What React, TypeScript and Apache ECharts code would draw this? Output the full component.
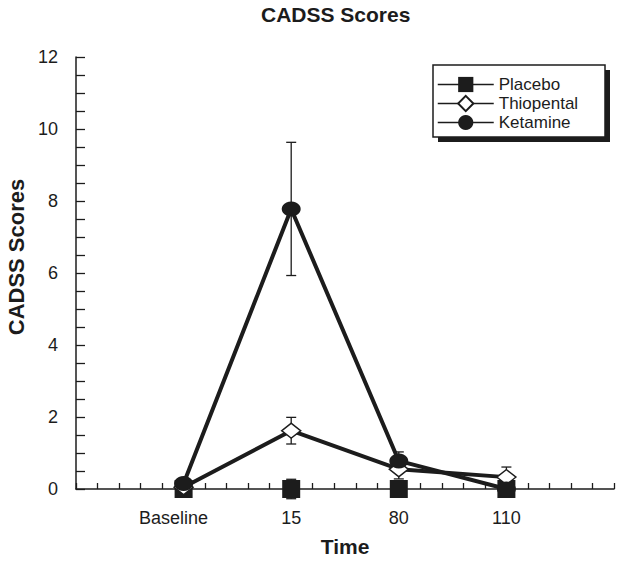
import React, { useEffect, useRef } from "react";
import * as echarts from "echarts";

const categories = ["Baseline", "15", "80", "110"];
const placebo = [0, 0, 0, 0];
const placeboErr = [0, 0.27, 0, 0];
const thiopental = [0.05, 1.62, 0.55, 0.33];
const thiopentalErr = [0, 0.37, 0.27, 0.28];
const ketamine = [0.15, 7.78, 0.78, 0];
const ketamineErr = [0, 1.85, 0.25, 0];
const yTicks = [0, 2, 4, 6, 8, 10, 12];

const INK = "#1c1c1c";
const FONT = "Liberation Sans, Arial, Helvetica, sans-serif";

function toPoints(vals: number[]) {
  return vals.map((v, i) => [i + 1, v]);
}
function toErr(vals: number[], errs: number[]) {
  return vals.map((v, i) => [i + 1, v, errs[i]]);
}

function errorSeries(name: string, vals: number[], errs: number[], z: number) {
  return {
    type: "custom",
    name: name + " error",
    silent: true,
    z,
    data: toErr(vals, errs),
    encode: { x: 0, y: 1 },
    renderItem: (params: any, api: any) => {
      const x = api.value(0);
      const y = api.value(1);
      const e = api.value(2);
      if (!e) return null;
      const top = api.coord([x, y + e]);
      const bot = api.coord([x, y - e]);
      const half = 5;
      const style = { stroke: INK, lineWidth: 1.3 };
      return {
        type: "group",
        children: [
          { type: "line", shape: { x1: top[0], y1: top[1], x2: bot[0], y2: bot[1] }, style },
          { type: "line", shape: { x1: top[0] - half, y1: top[1], x2: top[0] + half, y2: top[1] }, style },
          { type: "line", shape: { x1: bot[0] - half, y1: bot[1], x2: bot[0] + half, y2: bot[1] }, style },
        ],
      };
    },
  };
}

export default function App() {
  const ref = useRef<HTMLDivElement>(null);
  useEffect(() => {
    if (!ref.current) return;
    const chart = echarts.init(ref.current, undefined, { renderer: "svg" });
    const option: any = {
      animation: false,
      backgroundColor: "#ffffff",
      textStyle: { fontFamily: FONT, color: INK },
      title: {
        text: "CADSS Scores",
        left: 261,
        top: 4,
        padding: 0,
        textStyle: { fontFamily: FONT, fontSize: 21, fontWeight: "bold", color: INK },
      },
      grid: { left: 76, right: 10, top: 57, bottom: 73, containLabel: false, outerBoundsMode: "none" },
      graphic: [
        { type: "rect", z: 50, shape: { x: 438, y: 70, width: 172, height: 72 }, style: { fill: INK } },
        {
          type: "rect",
          z: 51,
          shape: { x: 433, y: 65, width: 172, height: 72 },
          style: { fill: "#ffffff", stroke: INK, lineWidth: 1.5 },
        },
      ],
      legend: {
        z: 60,
        orient: "vertical",
        left: 437,
        top: 75,
        padding: 0,
        itemWidth: 56,
        itemHeight: 19,
        itemGap: 0,
        data: ["Placebo", "Thiopental", "Ketamine"],
        lineStyle: { width: 1.5, opacity: 1, color: INK },
        textStyle: { fontFamily: FONT, fontSize: 17, color: INK, lineHeight: 19 },
      },
      xAxis: {
        type: "value",
        min: 0,
        max: 5,
        interval: 0.2,
        name: "Time",
        nameLocation: "middle",
        nameGap: 47,
        nameTextStyle: { fontFamily: FONT, fontSize: 21, fontWeight: "bold", color: INK },
        axisLine: { lineStyle: { color: INK, width: 1.5 } },
        axisTick: { inside: true, length: 6, lineStyle: { color: INK, width: 1.3 } },
        splitLine: { show: false },
        axisLabel: {
          margin: 20,
          fontFamily: FONT,
          fontSize: 18,
          color: INK,
          showMinLabel: true,
          showMaxLabel: true,
          formatter: (v: number) => {
            const r = Math.round(v);
            if (Math.abs(v - r) > 1e-6 || r < 1 || r > categories.length) return "";
            return r === 1 ? "{b|" + categories[0] + "}" : categories[r - 1];
          },
          rich: { b: { fontFamily: FONT, fontSize: 18, color: INK, padding: [0, 20, 0, 0] } },
        },
      },
      yAxis: {
        type: "value",
        min: 0,
        max: 12,
        interval: 0.5,
        name: "CADSS Scores",
        nameLocation: "middle",
        nameGap: 48,
        nameTextStyle: {
          fontFamily: FONT,
          fontSize: 22,
          fontWeight: "bold",
          color: INK,
          padding: [0, 0, 0, 32],
        },
        axisLine: { show: true, lineStyle: { color: INK, width: 1.5 } },
        axisTick: { show: true, inside: true, length: 9, lineStyle: { color: INK, width: 1.3 } },
        splitLine: { show: false },
        axisLabel: {
          margin: 18,
          fontFamily: FONT,
          fontSize: 18,
          color: INK,
          formatter: (v: number) => (yTicks.indexOf(v) >= 0 ? String(v) : ""),
        },
      },
      series: [
        errorSeries("Placebo", placebo, placeboErr, 1),
        errorSeries("Thiopental", thiopental, thiopentalErr, 1),
        errorSeries("Ketamine", ketamine, ketamineErr, 1),
        {
          type: "line",
          name: "Placebo",
          z: 3,
          data: toPoints(placebo),
          symbol: "rect",
          symbolSize: 18,
          lineStyle: { color: INK, width: 4, opacity: 0 },
          itemStyle: { color: INK, borderColor: INK, borderWidth: 0 },
        },
        {
          type: "line",
          name: "Thiopental",
          z: 4,
          data: toPoints(thiopental),
          symbol: "diamond",
          symbolSize: [19, 15],
          lineStyle: { color: INK, width: 4 },
          itemStyle: { color: "#ffffff", borderColor: INK, borderWidth: 1.5 },
        },
        {
          type: "line",
          name: "Ketamine",
          z: 5,
          data: toPoints(ketamine),
          symbol: "circle",
          symbolSize: [19, 15],
          lineStyle: { color: INK, width: 4 },
          itemStyle: { color: INK, borderColor: INK, borderWidth: 0 },
        },
      ],
    };
    chart.setOption(option);
    return () => chart.dispose();
  }, []);
  return (
    <div
      ref={ref}
      style={{ position: "fixed", left: 0, top: 0, width: 624, height: 562, background: "#fff" }}
    />
  );
}
